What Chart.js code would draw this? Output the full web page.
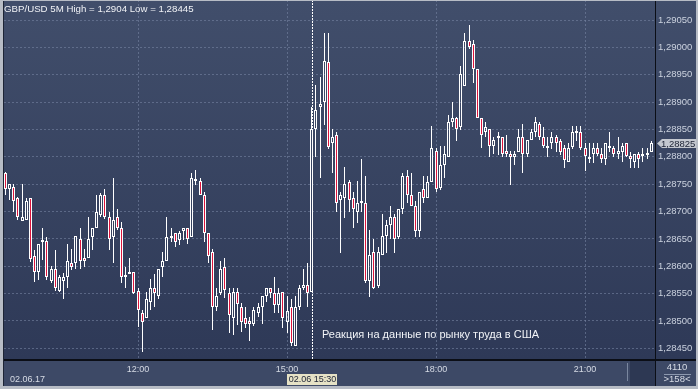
<!DOCTYPE html>
<html>
<head>
<meta charset="utf-8">
<script src="https://cdn.jsdelivr.net/npm/chart.js@4.4.0/dist/chart.umd.min.js"></script>
<style>
  html, body { margin: 0; padding: 0; background: #2f3a56; }
  canvas { display: block; }
</style>
</head>
<body>
<canvas id="chart" width="698" height="389"></canvas>
<script>
// GBP/USD, 5 minute candles, 02.06.17 from 09:15 to 22:20 (158 bars)
const startHour = 9, startMin = 15, stepMin = 5, barCount = 158;
const times = [];
for (let i = 0; i < barCount; i++) {
    const m = startHour * 60 + startMin + i * stepMin;
    times.push(String(Math.floor(m / 60)).padStart(2, "0") + ":" + String(m % 60).padStart(2, "0"));
}

const openP = [
    1.28765, 1.28770, 1.28741, 1.28745, 1.28725, 1.28683, 1.28684, 1.28725, 1.28619, 1.28589,
    1.28644, 1.28646, 1.28573, 1.28595, 1.28555, 1.28573, 1.28580, 1.28606, 1.28606, 1.28650,
    1.28615, 1.28615, 1.28653, 1.28670, 1.28694, 1.28730, 1.28690, 1.28653, 1.28690, 1.28670,
    1.28580, 1.28586, 1.28589, 1.28555, 1.28515, 1.28505, 1.28535, 1.28560, 1.28546, 1.28599,
    1.28610, 1.28652, 1.28661, 1.28648, 1.28664, 1.28670, 1.28653, 1.28756, 1.28756, 1.28730,
    1.28661, 1.28626, 1.28526, 1.28551, 1.28599, 1.28551, 1.28505, 1.28553, 1.28526, 1.28505,
    1.28500, 1.28494, 1.28515, 1.28526, 1.28546, 1.28560, 1.28551, 1.28529, 1.28553, 1.28498,
    1.28526, 1.28454, 1.28526, 1.28560, 1.28566, 1.28553, 1.28851, 1.28891, 1.28900, 1.28973,
    1.28825, 1.28840, 1.28721, 1.28725, 1.28754, 1.28725, 1.28699, 1.28719, 1.28716, 1.28573,
    1.28626, 1.28564, 1.28621, 1.28655, 1.28675, 1.28690, 1.28653, 1.28705, 1.28765, 1.28730,
    1.28710, 1.28664, 1.28741, 1.28725, 1.28754, 1.28811, 1.28743, 1.28785, 1.28800, 1.28864,
    1.28871, 1.28854, 1.28929, 1.29012, 1.29006, 1.28960, 1.28871, 1.28845, 1.28851, 1.28820,
    1.28834, 1.28836, 1.28811, 1.28805, 1.28800, 1.28809, 1.28836, 1.28805, 1.28831, 1.28845,
    1.28860, 1.28836, 1.28816, 1.28825, 1.28836, 1.28829, 1.28816, 1.28790, 1.28818, 1.28843,
    1.28845, 1.28816, 1.28796, 1.28805, 1.28816, 1.28805, 1.28796, 1.28820, 1.28816, 1.28805,
    1.28809, 1.28825, 1.28801, 1.28790, 1.28805, 1.28801, 1.28803, 1.28809
];
const highP = [
    1.28772, 1.28772, 1.28750, 1.28750, 1.28727, 1.28750, 1.28725, 1.28725, 1.28630, 1.28641,
    1.28670, 1.28653, 1.28600, 1.28630, 1.28584, 1.28588, 1.28641, 1.28632, 1.28655, 1.28670,
    1.28632, 1.28690, 1.28670, 1.28730, 1.28734, 1.28741, 1.28699, 1.28761, 1.28705, 1.28681,
    1.28599, 1.28615, 1.28589, 1.28560, 1.28520, 1.28553, 1.28577, 1.28586, 1.28595, 1.28626,
    1.28690, 1.28670, 1.28661, 1.28664, 1.28670, 1.28670, 1.28770, 1.28776, 1.28761, 1.28736,
    1.28661, 1.28632, 1.28560, 1.28610, 1.28615, 1.28560, 1.28560, 1.28560, 1.28533, 1.28526,
    1.28507, 1.28526, 1.28533, 1.28546, 1.28560, 1.28560, 1.28580, 1.28560, 1.28553, 1.28546,
    1.28540, 1.28546, 1.28566, 1.28595, 1.28606, 1.28891, 1.28931, 1.28946, 1.29026, 1.29026,
    1.28851, 1.28845, 1.28736, 1.28781, 1.28758, 1.28736, 1.28756, 1.28796, 1.28765, 1.28666,
    1.28650, 1.28635, 1.28695, 1.28684, 1.28710, 1.28695, 1.28705, 1.28770, 1.28776, 1.28770,
    1.28719, 1.28736, 1.28765, 1.28765, 1.28856, 1.28816, 1.28820, 1.28820, 1.28876, 1.28900,
    1.28873, 1.28966, 1.29026, 1.29041, 1.29013, 1.28960, 1.28871, 1.28864, 1.28851, 1.28836,
    1.28845, 1.28836, 1.28840, 1.28811, 1.28811, 1.28851, 1.28860, 1.28831, 1.28851, 1.28873,
    1.28864, 1.28854, 1.28836, 1.28845, 1.28840, 1.28833, 1.28822, 1.28825, 1.28856, 1.28856,
    1.28856, 1.28825, 1.28825, 1.28825, 1.28825, 1.28816, 1.28825, 1.28845, 1.28820, 1.28836,
    1.28825, 1.28825, 1.28809, 1.28805, 1.28809, 1.28816, 1.28816, 1.28829
];
const lowP = [
    1.28763, 1.28730, 1.28721, 1.28699, 1.28684, 1.28683, 1.28684, 1.28608, 1.28571, 1.28575,
    1.28611, 1.28575, 1.28569, 1.28555, 1.28553, 1.28540, 1.28560, 1.28593, 1.28595, 1.28595,
    1.28599, 1.28615, 1.28630, 1.28670, 1.28690, 1.28686, 1.28630, 1.28606, 1.28666, 1.28569,
    1.28560, 1.28586, 1.28549, 1.28489, 1.28443, 1.28505, 1.28520, 1.28526, 1.28540, 1.28580,
    1.28610, 1.28644, 1.28635, 1.28639, 1.28648, 1.28641, 1.28653, 1.28748, 1.28730, 1.28644,
    1.28606, 1.28483, 1.28518, 1.28547, 1.28542, 1.28478, 1.28474, 1.28493, 1.28480, 1.28487,
    1.28463, 1.28491, 1.28507, 1.28494, 1.28535, 1.28542, 1.28515, 1.28515, 1.28487, 1.28478,
    1.28454, 1.28454, 1.28520, 1.28557, 1.28526, 1.28553, 1.28800, 1.28761, 1.28858, 1.28814,
    1.28770, 1.28699, 1.28624, 1.28688, 1.28699, 1.28670, 1.28679, 1.28699, 1.28569, 1.28544,
    1.28559, 1.28560, 1.28621, 1.28624, 1.28650, 1.28624, 1.28650, 1.28695, 1.28716, 1.28710,
    1.28653, 1.28653, 1.28716, 1.28725, 1.28754, 1.28736, 1.28739, 1.28761, 1.28800, 1.28854,
    1.28829, 1.28849, 1.28929, 1.28997, 1.28935, 1.28871, 1.28816, 1.28836, 1.28800, 1.28805,
    1.28803, 1.28800, 1.28800, 1.28748, 1.28785, 1.28809, 1.28770, 1.28800, 1.28831, 1.28836,
    1.28831, 1.28816, 1.28800, 1.28814, 1.28809, 1.28803, 1.28780, 1.28790, 1.28814, 1.28829,
    1.28812, 1.28774, 1.28789, 1.28789, 1.28801, 1.28789, 1.28785, 1.28809, 1.28800, 1.28796,
    1.28790, 1.28800, 1.28780, 1.28780, 1.28780, 1.28790, 1.28796, 1.28809
];
const closeP = [
    1.28770, 1.28741, 1.28750, 1.28719, 1.28690, 1.28690, 1.28719, 1.28613, 1.28589, 1.28641,
    1.28646, 1.28580, 1.28595, 1.28560, 1.28580, 1.28580, 1.28610, 1.28599, 1.28655, 1.28610,
    1.28610, 1.28650, 1.28670, 1.28699, 1.28730, 1.28690, 1.28650, 1.28684, 1.28670, 1.28580,
    1.28580, 1.28589, 1.28551, 1.28520, 1.28498, 1.28540, 1.28560, 1.28551, 1.28595, 1.28610,
    1.28653, 1.28653, 1.28644, 1.28661, 1.28670, 1.28650, 1.28761, 1.28758, 1.28730, 1.28661,
    1.28619, 1.28526, 1.28546, 1.28595, 1.28557, 1.28511, 1.28553, 1.28531, 1.28498, 1.28494,
    1.28494, 1.28520, 1.28526, 1.28546, 1.28560, 1.28551, 1.28529, 1.28551, 1.28505, 1.28518,
    1.28460, 1.28526, 1.28560, 1.28566, 1.28551, 1.28851, 1.28886, 1.28896, 1.28975, 1.28818,
    1.28836, 1.28716, 1.28730, 1.28750, 1.28721, 1.28705, 1.28716, 1.28716, 1.28573, 1.28621,
    1.28560, 1.28626, 1.28655, 1.28675, 1.28690, 1.28650, 1.28705, 1.28765, 1.28730, 1.28710,
    1.28664, 1.28736, 1.28725, 1.28754, 1.28816, 1.28741, 1.28785, 1.28805, 1.28864, 1.28871,
    1.28851, 1.28951, 1.29012, 1.29001, 1.28960, 1.28871, 1.28840, 1.28854, 1.28820, 1.28831,
    1.28836, 1.28805, 1.28805, 1.28800, 1.28805, 1.28836, 1.28805, 1.28831, 1.28845, 1.28864,
    1.28836, 1.28820, 1.28820, 1.28836, 1.28825, 1.28809, 1.28794, 1.28816, 1.28845, 1.28845,
    1.28816, 1.28801, 1.28800, 1.28816, 1.28805, 1.28796, 1.28825, 1.28816, 1.28805, 1.28811,
    1.28820, 1.28801, 1.28796, 1.28805, 1.28796, 1.28805, 1.28805, 1.28825
];

const xTickLabels = ["12:00", "15:00", "18:00", "21:00"];
const yTickValues = [1.28450, 1.28500, 1.28550, 1.28600, 1.28650, 1.28700, 1.28750,
    1.28800, 1.28850, 1.28900, 1.28950, 1.29000, 1.29050];
const eventTime = "15:30";
const titleText = "GBP/USD 5M High = 1,2904 Low = 1,28445";
const noteText = "Реакция на данные по рынку труда в США";
const dateText = "02.06.17";
const eventTag = "02.06 15:30";
const barsInfo = ["4110", ">158<"];

const FONT = "Liberation Sans";
const fmt = v => v.toFixed(5).replace(".", ",");

// bodies and wicks as floating bars
const bodyData = [], upperWick = [], lowerWick = [], bodyFill = [];
for (let i = 0; i < barCount; i++) {
    const top = Math.max(openP[i], closeP[i]);
    const bot = Math.min(openP[i], closeP[i]);
    bodyData.push({ x: i, y: [bot, top] });
    upperWick.push({ x: i, y: [top, highP[i]] });
    lowerWick.push({ x: i, y: [lowP[i], bot] });
    bodyFill.push(closeP[i] < openP[i] ? "#dc143c" : "rgba(0,0,0,0)");
}

// keep candles on whole pixels so they stay crisp
const snapPlugin = {
    id: "snap",
    afterDatasetsUpdate(chart) {
        chart.data.datasets.forEach((d, di) => {
            chart.getDatasetMeta(di).data.forEach(el => {
                el.x = Math.floor(el.x) + 0.5;
                el.y = Math.round(el.y);
                el.base = Math.round(el.base);
            });
        });
    }
};

const backPlugin = {
    id: "back",
    beforeDraw(chart) {
        const c = chart.ctx;
        const g = c.createLinearGradient(0, 0, 0, 360);
        g.addColorStop(0, "#414e6b");
        g.addColorStop(1, "#2e3957");
        c.save();
        c.fillStyle = g;
        c.fillRect(0, 0, 698, 389);
        // bottom time strip
        c.fillStyle = "#3d4966";
        c.fillRect(0, 360, 698, 29);
        c.fillStyle = "#2d3853";
        c.fillRect(630, 361, 25, 25);
        c.fillStyle = "#7a879f";
        c.fillRect(627, 363, 1, 18);
        c.restore();
    },
    beforeDatasetsDraw(chart) {
        const c = chart.ctx;
        const x = Math.round(chart.scales.x.getPixelForValue(times.indexOf(eventTime))) + 0.5;
        c.save();
        c.strokeStyle = "#ffffff";
        c.lineWidth = 1;
        c.setLineDash([2, 1]);
        c.beginPath();
        c.moveTo(x, 0);
        c.lineTo(x, chart.chartArea.bottom);
        c.stroke();
        c.restore();
    },
    afterDraw(chart) {
        const c = chart.ctx;
        const xs = chart.scales.x, ys = chart.scales.y;
        c.save();
        // frame lines
        c.fillStyle = "#0b0e16";
        c.fillRect(655, 0, 1, 386);
        c.fillRect(0, 359, 698, 2);
        c.fillStyle = "#1d2435";
        c.fillRect(3, 0, 1, 386);
        c.fillStyle = "#b7bcc5";
        c.fillRect(0, 0, 3, 389);
        c.fillRect(0, 0, 698, 1);
        c.fillRect(0, 386, 698, 3);
        c.fillRect(696, 0, 2, 389);

        // title
        c.font = "9.7px '" + FONT + "'";
        c.fillStyle = "#f0f2f6";
        c.textAlign = "left";
        c.textBaseline = "alphabetic";
        c.fillText(titleText, 4, 12);

        // note
        c.font = "11px '" + FONT + "'";
        c.fillStyle = "#f2f4f8";
        c.fillText(noteText, 322, 338);

        // last price tag
        const last = barCount - 1;
        const yl = Math.round(ys.getPixelForValue(closeP[last])) + 0.5;
        c.fillStyle = "#c4c8d0";
        c.beginPath();
        c.moveTo(657, yl);
        c.lineTo(662, yl - 4.5);
        c.lineTo(696, yl - 4.5);
        c.lineTo(696, yl + 4.5);
        c.lineTo(662, yl + 4.5);
        c.closePath();
        c.fill();
        c.font = "9.5px '" + FONT + "'";
        c.fillStyle = "#1c2234";
        c.textBaseline = "middle";
        c.fillText(fmt(closeP[last]), 661, yl + 0.5);

        // date in the strip
        c.font = "9px '" + FONT + "'";
        c.fillStyle = "#d6dbe5";
        c.fillText(dateText, 10, 379.5);

        // event time tag
        const xe = xs.getPixelForValue(times.indexOf(eventTime));
        c.fillStyle = "#e6e2c6";
        c.fillRect(Math.round(xe) - 25, 374, 50, 11);
        c.fillStyle = "#1c2234";
        c.textAlign = "center";
        c.fillText(eventTag, Math.round(xe) + 0.5, 379.5);

        // bar counter
        c.font = "9.5px '" + FONT + "'";
        c.fillStyle = "#d6dbe5";
        c.fillText(barsInfo[0], 677, 367.5);
        c.fillText(barsInfo[1], 677, 379.5);
        c.fillStyle = "#8c98ae";
        c.fillRect(664, 374, 27, 1);
        c.restore();
    }
};

const ctx = document.getElementById("chart").getContext("2d");
new Chart(ctx, {
    type: "bar",
    data: {
        datasets: [
            {
                label: "body", data: bodyData, backgroundColor: bodyFill,
                borderColor: "#ffffff", borderWidth: 1, borderSkipped: false,
                barThickness: 3, minBarLength: 2, grouped: false, order: 0, inflateAmount: 0
            },
            {
                label: "upper", data: upperWick, backgroundColor: "#ffffff", borderWidth: 0,
                barThickness: 1, grouped: false, order: 1, inflateAmount: 0
            },
            {
                label: "lower", data: lowerWick, backgroundColor: "#ffffff", borderWidth: 0,
                barThickness: 1, grouped: false, order: 1, inflateAmount: 0
            }
        ]
    },
    options: {
        responsive: false,
        animation: false,
        events: [],
        layout: { padding: 0, autoPadding: false },
        plugins: { legend: { display: false }, tooltip: { enabled: false } },
        scales: {
            x: {
                type: "linear",
                offset: false,
                min: -0.342,
                max: 157.91,
                afterFit(s) { s.height = 30; s.paddingLeft = 0; s.paddingRight = 0; },
                afterBuildTicks(s) { s.ticks = xTickLabels.map(t => ({ value: times.indexOf(t) })); },
                ticks: {
                    callback: v => times[v],
                    autoSkip: false, maxRotation: 0, padding: 5,
                    color: "#d6dbe5", font: { family: FONT, size: 9 }
                },
                grid: { offset: false, color: "rgba(118,132,162,0.6)", drawTicks: false },
                border: { display: false, dash: [2, 2] }
            },
            y: {
                position: "right",
                min: 1.284305,
                max: 1.290866,
                afterFit(s) { s.width = 43; s.paddingTop = 0; s.paddingBottom = 0; },
                afterBuildTicks(s) { s.ticks = yTickValues.map(v => ({ value: v })); },
                ticks: {
                    callback: v => fmt(v),
                    padding: 3,
                    color: "#cbd2df", font: { family: FONT, size: 9.5 }
                },
                grid: { color: "rgba(118,132,162,0.6)", drawTicks: false },
                border: { display: false, dash: [2, 2] }
            }
        }
    },
    plugins: [snapPlugin, backPlugin]
});
</script>
</body>
</html>
